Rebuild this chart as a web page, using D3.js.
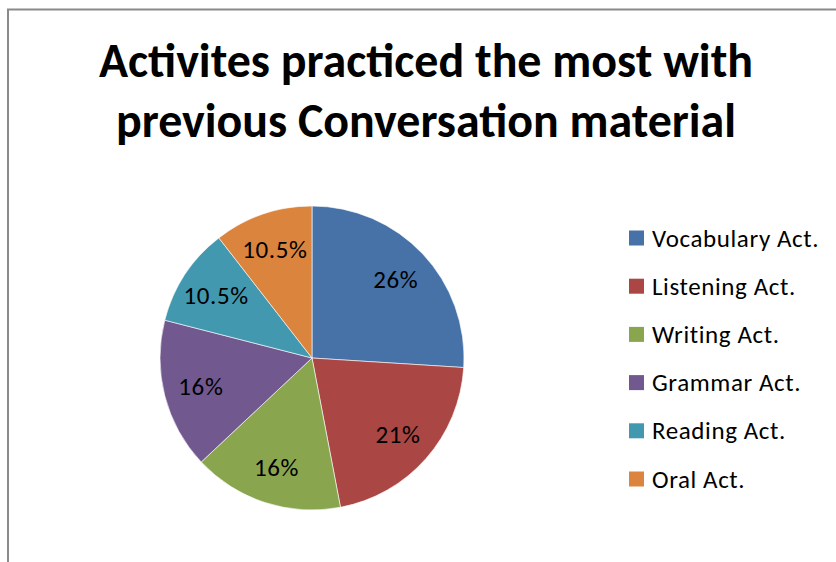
<!DOCTYPE html>
<html>
<head>
<meta charset="utf-8">
<script src="https://cdn.jsdelivr.net/npm/d3@7"></script>
<style>
  html, body { margin: 0; padding: 0; background: #fff; }
  svg { display: block; }
</style>
</head>
<body>
<svg id="chart" width="836" height="562"></svg>
<script>
// Chart data
const categories = ["Vocabulary Act.", "Listening Act.", "Writing Act.", "Grammar Act.", "Reading Act.", "Oral Act."];
const values = [26, 21, 16, 16, 10.5, 10.5];
const labels = ["26%", "21%", "16%", "16%", "10.5%", "10.5%"];
const colors = ["#4672A8", "#AA4644", "#89A64E", "#71598F", "#4298AF", "#DB843D"];
const titleLines = ["Activites practiced the most with", "previous Conversation material"];

const svg = d3.select("#chart");
const W = 836, H = 562;
const font = "Carlito, Lato, 'Open Sans', sans-serif";

// Chart area frame (top and left edges visible)
svg.append("path")
  .attr("d", `M8,${H} L8,9.5 L${W},9.5`)
  .attr("fill", "none")
  .attr("stroke", "#8a8a8a")
  .attr("stroke-width", 2);

// Title
const titleWidths = [654, 620];
const titleBase = [77, 137];
titleLines.forEach((t, i) => {
  svg.append("text")
    .attr("x", 426)
    .attr("y", titleBase[i])
    .attr("text-anchor", "middle")
    .attr("font-family", font)
    .attr("font-weight", "bold")
    .attr("font-size", 48)
    .attr("textLength", titleWidths[i])
    .attr("lengthAdjust", "spacingAndGlyphs")
    .attr("fill", "#000")
    .text(t);
});

// Pie
const cx = 312, cy = 358, r = 152;
const pie = d3.pie().sort(null).value(d => d)(values);
const arc = d3.arc().innerRadius(0).outerRadius(r);
const labelArc = d3.arc().innerRadius(r * 0.755).outerRadius(r * 0.755);

const g = svg.append("g").attr("transform", `translate(${cx},${cy})`);
g.selectAll("path.slice")
  .data(pie)
  .join("path")
  .attr("class", "slice")
  .attr("d", arc)
  .attr("fill", (d, i) => colors[i])
  .attr("stroke", "#fff")
  .attr("stroke-width", 0.6);

g.selectAll("text.lbl")
  .data(pie)
  .join("text")
  .attr("class", "lbl")
  .attr("transform", d => `translate(${labelArc.centroid(d)})`)
  .attr("text-anchor", "middle")
  .attr("dy", "0.35em")
  .attr("font-family", font)
  .attr("font-size", 25)
  .attr("letter-spacing", 0.6)
  .attr("fill", "#000")
  .text((d, i) => labels[i]);

// Legend
const legY = d3.scalePoint().domain(categories).range([238, 479]);
const leg = svg.append("g");
categories.forEach((c, i) => {
  const y = legY(c);
  leg.append("rect")
    .attr("x", 629).attr("y", y - 7.5)
    .attr("width", 15).attr("height", 15)
    .attr("fill", colors[i]);
  leg.append("text")
    .attr("x", 652).attr("y", y + 8.5)
    .attr("font-family", font)
    .attr("font-size", 25)
    .attr("letter-spacing", 0.6)
    .attr("fill", "#000")
    .text(c);
});
</script>
</body>
</html>
